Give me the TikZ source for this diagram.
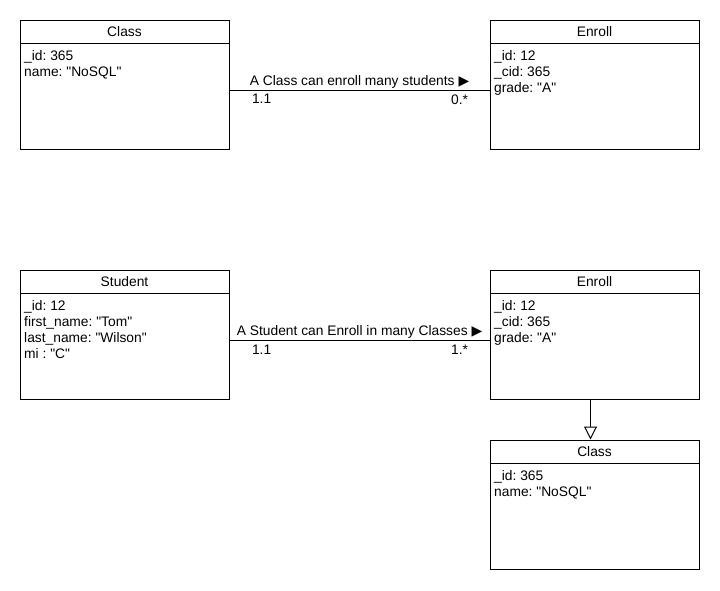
\documentclass[tikz,border=0pt]{standalone}
\usepackage{fontspec}
\setmainfont[Ligatures=TeXOff]{Liberation Sans}
\newfontfamily\symbolfont{DejaVu Sans}
\frenchspacing
\usetikzlibrary{arrows.meta,positioning}

\tikzset{
  classbox/.style={draw, line width=1pt, minimum width=209pt, minimum height=129pt, inner sep=0pt},
  classhead/.style={draw, line width=1pt, minimum width=209pt, minimum height=23pt, inner sep=0pt, anchor=north},
  attrs/.style={anchor=north west, align=left, inner xsep=4.5pt, inner ysep=6.5pt},
  assoc/.style={line width=1pt},
  assoclabel/.style={midway, above, inner sep=0.8pt},
  mult/.style={inner sep=1pt, yshift=-3pt},
}

\begin{document}
\begin{tikzpicture}[x=1pt, y=-1pt, font=\fontsize{13.8}{16}\selectfont]
  \useasboundingbox (0,0) rectangle (720,590);

  % a class and its enrollments
  \node[classbox] (class-a) at (124.5,84.5) {};
  \node[classhead] (class-a-head) at (class-a.north) {Class};
  \node[attrs] (class-a-attrs) at (class-a-head.south west) {\_id: 365\\name: "NoSQL"};

  \node[classbox] (enroll-a) at (594.5,84.5) {};
  \node[classhead] (enroll-a-head) at (enroll-a.north) {Enroll};
  \node[attrs] (enroll-a-attrs) at (enroll-a-head.south west) {\_id: 12\\\_cid: 365\\grade: "A"};

  \draw[assoc] ([yshift=-5.5pt]class-a.east) -- node[assoclabel] {A Class can enroll many students {\symbolfont ▶}}
    node[mult, pos=0, anchor=north west, xshift=21pt] {1.1}
    node[mult, pos=1, anchor=north east, xshift=-20pt] {0.*} ([yshift=-5.5pt]enroll-a.west);

  % a student and its enrollments
  \node[classbox] (student) at (124.5,334.5) {};
  \node[classhead] (student-head) at (student.north) {Student};
  \node[attrs] (student-attrs) at (student-head.south west) {\_id: 12\\first\_name: "Tom"\\last\_name: "Wilson"\\mi : "C"};

  \node[classbox] (enroll-b) at (594.5,334.5) {};
  \node[classhead] (enroll-b-head) at (enroll-b.north) {Enroll};
  \node[attrs] (enroll-b-attrs) at (enroll-b-head.south west) {\_id: 12\\\_cid: 365\\grade: "A"};

  \node[classbox] (class-b) at (594.5,504.5) {};
  \node[classhead] (class-b-head) at (class-b.north) {Class};
  \node[attrs] (class-b-attrs) at (class-b-head.south west) {\_id: 365\\name: "NoSQL"};

  \draw[assoc] ([yshift=-5.5pt]student.east) -- node[assoclabel] {A Student can Enroll in many Classes {\symbolfont ▶}}
    node[mult, pos=0, anchor=north west, xshift=21pt] {1.1}
    node[mult, pos=1, anchor=north east, xshift=-20pt] {1.*} ([yshift=-5.5pt]enroll-b.west);

  \draw[assoc, -{Triangle[open, width=13pt, length=13pt]}] ([xshift=-4pt]enroll-b.south) -- ([xshift=-4pt]class-b.north);
\end{tikzpicture}
\end{document}
